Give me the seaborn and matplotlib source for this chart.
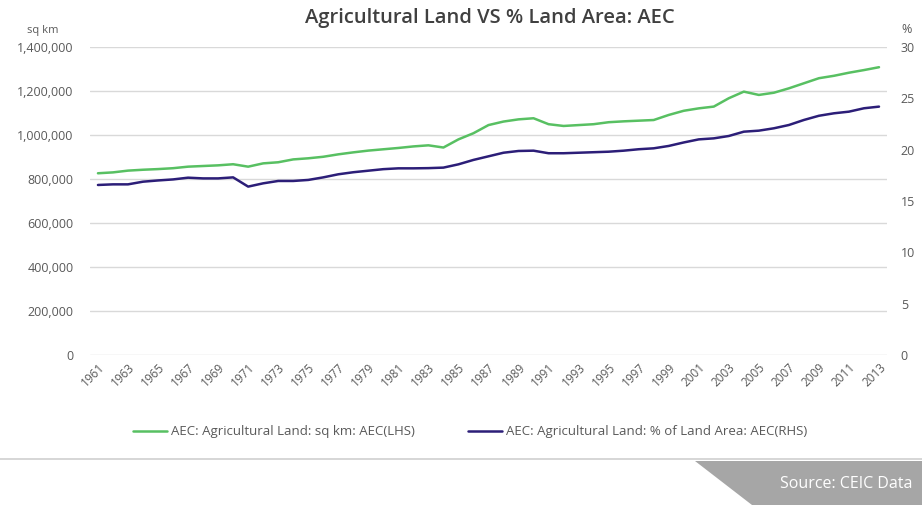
import pandas as pd
import seaborn as sns
import matplotlib.pyplot as plt
from matplotlib.patches import Polygon
from matplotlib.lines import Line2D
from matplotlib.ticker import FuncFormatter

# Dados
years = list(range(1961, 2014))

land_sq_km = [
    826000, 830000, 838000, 842000, 845000, 849000, 856000, 859000, 862000, 867000,
    856000, 871000, 876000, 889000, 894000, 901000, 912000, 921000, 929000, 935000,
    941000, 948000, 953000, 943000, 980000, 1008000, 1045000, 1061000, 1071000, 1076000,
    1049000, 1041000, 1045000, 1049000, 1058000, 1062000, 1065000, 1068000, 1091000, 1110000,
    1121000, 1129000, 1167000, 1197000, 1182000, 1192000, 1212000, 1235000, 1258000, 1269000,
    1283000, 1295000, 1308000,
]

land_pct = [
    16.56, 16.62, 16.62, 16.88, 17.0, 17.1, 17.27, 17.2, 17.2, 17.3,
    16.4, 16.72, 16.95, 16.95, 17.05, 17.3, 17.6, 17.8, 17.95, 18.1,
    18.18, 18.18, 18.2, 18.25, 18.57, 19.0, 19.35, 19.7, 19.87, 19.9,
    19.65, 19.65, 19.7, 19.75, 19.8, 19.9, 20.04, 20.13, 20.36, 20.7,
    21.0, 21.1, 21.33, 21.75, 21.85, 22.08, 22.4, 22.89, 23.3, 23.54,
    23.7, 24.03, 24.19,
]

lhs_label = "AEC: Agricultural Land: sq km: AEC(LHS)"
rhs_label = "AEC: Agricultural Land: % of Land Area: AEC(RHS)"

df = pd.DataFrame({"year": years, "sq_km": land_sq_km, "pct": land_pct})

GREEN = "#58C062"
NAVY = "#2C1E78"
GRAY = "#595959"

sns.set_style("white")
plt.rcParams["font.family"] = ["Open Sans", "DejaVu Sans"]

fig = plt.figure(figsize=(9.22, 5.05), dpi=100)
ax = fig.add_axes([0.0976, 0.297, 0.8644, 0.610])
ax2 = ax.twinx()

sns.lineplot(data=df, x="year", y="sq_km", ax=ax, color=GREEN, linewidth=1.8)
sns.lineplot(data=df, x="year", y="pct", ax=ax2, color=NAVY, linewidth=1.8)

# Eixo esquerdo
ax.set_ylim(0, 1400000)
ax.set_yticks(range(0, 1400001, 200000))
ax.yaxis.set_major_formatter(FuncFormatter(lambda v, p: f"{int(v):,}"))
ax.grid(axis="y", color="#D9D9D9", linewidth=1)
ax.grid(axis="x", visible=False)
ax.set_xlim(1960.47, 2013.53)
ax.set_xticks(years[::2])
ax.set_xticklabels([str(y) for y in years[::2]], rotation=45, ha="right",
                   rotation_mode="anchor", fontsize=8.5, color=GRAY)
ax.tick_params(axis="y", labelsize=9, colors=GRAY, length=0, pad=12)
ax.tick_params(axis="x", length=0, pad=4)
ax.set_xlabel("")
ax.set_ylabel("")

# Eixo direito
ax2.set_ylim(0, 30)
ax2.set_yticks(range(0, 31, 5))
ax2.tick_params(axis="y", labelsize=9, colors=GRAY, length=0, pad=10)
ax2.set_ylabel("")
ax2.grid(False)

for a in (ax, ax2):
    for s in a.spines.values():
        s.set_visible(False)

fig.text(0.029, 0.928, "sq km", fontsize=8, color=GRAY, ha="left", va="bottom")
fig.text(0.978, 0.928, "%", fontsize=9, color=GRAY, ha="left", va="bottom")

fig.text(0.531, 0.964, "Agricultural Land VS % Land Area: AEC", ha="center", va="center",
         fontsize=14.5, fontweight="semibold", color="#404040")

handles = [Line2D([], [], color=GREEN, linewidth=1.8),
           Line2D([], [], color=NAVY, linewidth=1.8)]
fig.legend(handles, [lhs_label, rhs_label], loc="center", bbox_to_anchor=(0.51, 0.145),
           ncol=2, frameon=False, fontsize=9.5, labelcolor=GRAY, handlelength=2.6,
           handletextpad=0.3, columnspacing=4.0)

# Rodapé com a fonte
fig.add_artist(Line2D([0, 1], [1 - 459 / 505, 1 - 459 / 505], transform=fig.transFigure,
                      color="#D0D0D0", linewidth=1.2))
fig.add_artist(Polygon([(695 / 922, 1 - 461 / 505), (1, 1 - 461 / 505), (1, 0),
                        (752 / 922, 0)], closed=True, transform=fig.transFigure,
                       facecolor="#A6A6A6", edgecolor="none"))
fig.text(0.99, 1 - 484 / 505, "Source: CEIC Data", fontsize=11.5, color="white",
         ha="right", va="center")

fig.savefig("out.png", dpi=100)
